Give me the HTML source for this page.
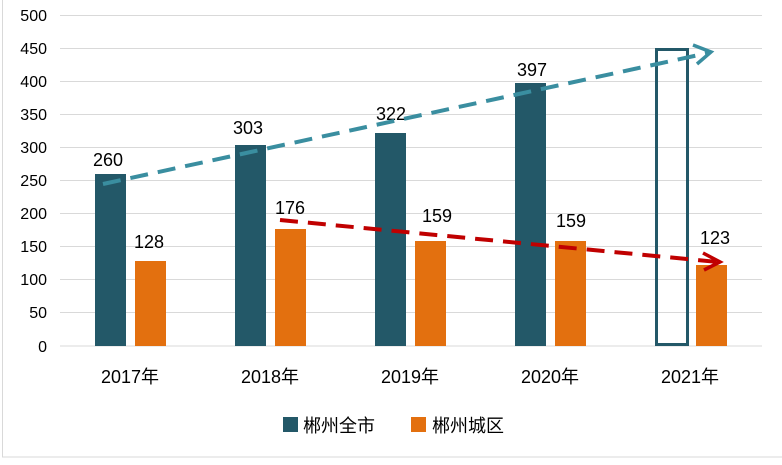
<!DOCTYPE html><html><head><style>body{margin:0;background:#fff;width:782px;height:460px;overflow:hidden;font-family:"Liberation Sans","Noto Sans CJK SC",sans-serif}</style></head><body>
<svg width="782" height="460" xmlns="http://www.w3.org/2000/svg" font-family="Liberation Sans, Noto Sans CJK SC, sans-serif">
<rect x="2.5" y="-2" width="790" height="459" fill="none" stroke="#d9d9d9"/>
<g stroke="#d9d9d9" stroke-width="1">
<line x1="60" x2="762" y1="15.5" y2="15.5"/><line x1="60" x2="762" y1="48.5" y2="48.5"/><line x1="60" x2="762" y1="81.5" y2="81.5"/><line x1="60" x2="762" y1="114.5" y2="114.5"/><line x1="60" x2="762" y1="147.5" y2="147.5"/><line x1="60" x2="762" y1="180.5" y2="180.5"/><line x1="60" x2="762" y1="213.5" y2="213.5"/><line x1="60" x2="762" y1="246.5" y2="246.5"/><line x1="60" x2="762" y1="279.5" y2="279.5"/><line x1="60" x2="762" y1="312.5" y2="312.5"/><line x1="60" x2="762" y1="346" y2="346"/>
</g>
<g font-size="16" fill="#000" text-anchor="end">
<text x="47" y="21">500</text><text x="47" y="54">450</text><text x="47" y="87">400</text><text x="47" y="120">350</text><text x="47" y="153">300</text><text x="47" y="186">250</text><text x="47" y="219">200</text><text x="47" y="252">150</text><text x="47" y="285">100</text><text x="47" y="318">50</text><text x="47" y="352">0</text>
</g>
<g fill="#235868">
<rect x="95" y="174" width="31" height="172"/><rect x="235" y="145" width="31" height="201"/><rect x="375" y="133" width="31" height="213"/><rect x="515" y="83" width="31" height="263"/>
</g>
<rect x="656.5" y="49.5" width="31" height="295" fill="none" stroke="#235868" stroke-width="3"/>
<g fill="#e3700f">
<rect x="135" y="261" width="31" height="85"/><rect x="275" y="229" width="31" height="117"/><rect x="415" y="241" width="31" height="105"/><rect x="555" y="241" width="31" height="105"/><rect x="696" y="265" width="31" height="81"/>
</g>
<g font-size="18" fill="#000" text-anchor="middle">
<text x="108" y="166">260</text><text x="149" y="248">128</text><text x="248" y="134">303</text><text x="290" y="214">176</text><text x="391" y="120">322</text><text x="437" y="222">159</text><text x="532" y="76">397</text><text x="571" y="227">159</text><text x="715" y="244">123</text>
</g>
<line x1="103" y1="184" x2="708" y2="53" stroke="#3a8ea0" stroke-width="4" stroke-dasharray="18,10"/>
<polyline points="693,45 711,52 697,64" fill="none" stroke="#3a8ea0" stroke-width="3.5"/>
<line x1="280" y1="220" x2="718" y2="262" stroke="#c00000" stroke-width="4" stroke-dasharray="18,10"/>
<polyline points="703,253 720,262 704,270" fill="none" stroke="#c00000" stroke-width="3.5"/>
<g font-size="18" fill="#000" text-anchor="middle">
<text x="130" y="383">2017年</text><text x="270" y="383">2018年</text><text x="410" y="383">2019年</text><text x="550" y="383">2020年</text><text x="690" y="383">2021年</text>
</g>
<rect x="283" y="417" width="15" height="15" fill="#235868"/>
<text x="303" y="432" font-size="18">郴州全市</text>
<rect x="411" y="417" width="15" height="15" fill="#e3700f"/>
<text x="432" y="432" font-size="18">郴州城区</text>
</svg>
</body></html>
